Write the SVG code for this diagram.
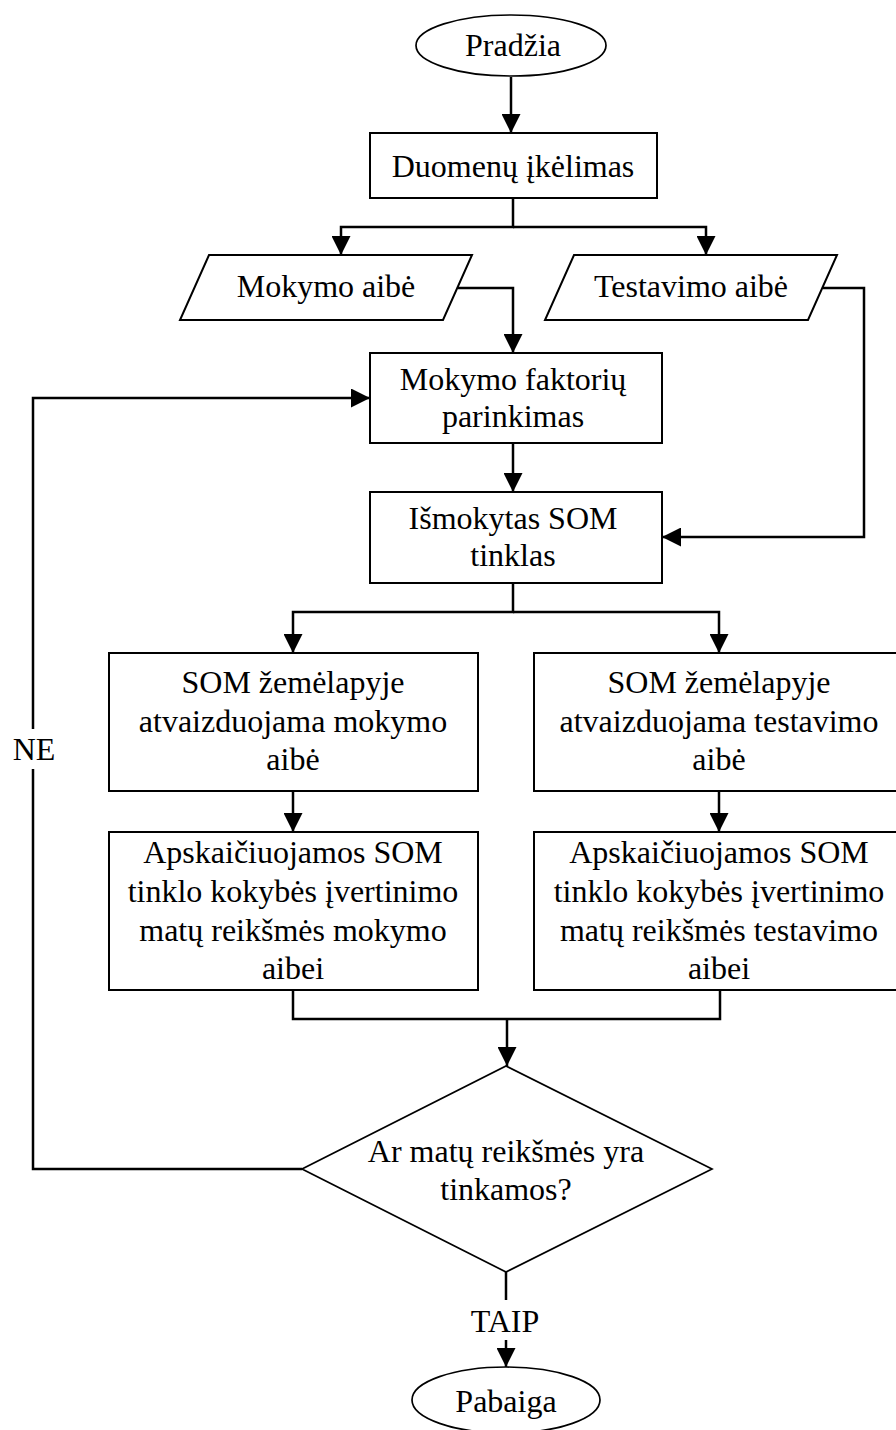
<svg xmlns="http://www.w3.org/2000/svg" width="896" height="1430" viewBox="0 0 896 1430">
<style>
.shape{fill:#fff;stroke:#000;stroke-width:2}
.thin{fill:#fff;stroke:#000;stroke-width:1.7}
.conn{fill:none;stroke:#000;stroke-width:2.5}
text{font-family:"Liberation Serif","Times New Roman",serif;font-size:32px;fill:#000;text-anchor:middle}
</style>
<defs>
<marker id="arr" markerUnits="userSpaceOnUse" markerWidth="19" markerHeight="19" refX="19" refY="9.5" orient="auto">
<path d="M0,0 L19,9.5 L0,19 z" fill="#000"/>
</marker>
</defs>
<rect width="896" height="1430" fill="#fff"/>
<g id="connectors">
<path class="conn" d="M511,77 V133" marker-end="url(#arr)"/>
<path class="conn" d="M513,198 V227 H341 V255" marker-end="url(#arr)"/>
<path class="conn" d="M513,227 H706 V255" marker-end="url(#arr)"/>
<path class="conn" d="M458,288 H513 V353" marker-end="url(#arr)"/>
<path class="conn" d="M823,288 H864 V537 H662" marker-end="url(#arr)"/>
<path class="conn" d="M513,443 V492" marker-end="url(#arr)"/>
<path class="conn" d="M513,583 V612 H293 V653" marker-end="url(#arr)"/>
<path class="conn" d="M513,612 H719 V653" marker-end="url(#arr)"/>
<path class="conn" d="M293,791 V832" marker-end="url(#arr)"/>
<path class="conn" d="M719,791 V832" marker-end="url(#arr)"/>
<path class="conn" d="M293,990 V1019 H720 V990"/>
<path class="conn" d="M507,1019 V1066" marker-end="url(#arr)"/>
<path class="conn" d="M302,1169 H33 V769"/>
<path class="conn" d="M33,729 V398 H370" marker-end="url(#arr)"/>
<path class="conn" d="M506,1272 V1300"/>
<path class="conn" d="M506,1340 V1367" marker-end="url(#arr)"/>
<text x="34" y="760">NE</text>
<text x="505" y="1332">TAIP</text>
</g>
<g id="start">
<ellipse class="thin" cx="511" cy="45.5" rx="95" ry="30.5"/>
<text x="513" y="56">Pradžia</text>
</g>
<g id="load">
<rect class="shape" x="370" y="133" width="287" height="65"/>
<text x="513" y="177">Duomenų įkėlimas</text>
</g>
<g id="train-set">
<polygon class="shape" points="209,255 472,255 443,320 180,320"/>
<text x="326" y="297">Mokymo aibė</text>
</g>
<g id="test-set">
<polygon class="shape" points="574,255 837,255 808,320 545,320"/>
<text x="691" y="297">Testavimo aibė</text>
</g>
<g id="factors">
<rect class="shape" x="370" y="353" width="292" height="90"/>
<text x="513" y="390">Mokymo faktorių</text>
<text x="513" y="427">parinkimas</text>
</g>
<g id="trained">
<rect class="shape" x="370" y="492" width="292" height="91"/>
<text x="513" y="529">Išmokytas SOM</text>
<text x="513" y="566">tinklas</text>
</g>
<g id="map-train">
<rect class="shape" x="109" y="653" width="369" height="138"/>
<text x="293" y="693">SOM žemėlapyje</text>
<text x="293" y="732">atvaizduojama mokymo</text>
<text x="293" y="770">aibė</text>
</g>
<g id="map-test">
<rect class="shape" x="534" y="653" width="372" height="138"/>
<text x="719" y="693">SOM žemėlapyje</text>
<text x="719" y="732">atvaizduojama testavimo</text>
<text x="719" y="770">aibė</text>
</g>
<g id="calc-train">
<rect class="shape" x="109" y="832" width="369" height="158"/>
<text x="293" y="863">Apskaičiuojamos SOM</text>
<text x="293" y="902">tinklo kokybės įvertinimo</text>
<text x="293" y="941">matų reikšmės mokymo</text>
<text x="293" y="979">aibei</text>
</g>
<g id="calc-test">
<rect class="shape" x="534" y="832" width="372" height="158"/>
<text x="719" y="863">Apskaičiuojamos SOM</text>
<text x="719" y="902">tinklo kokybės įvertinimo</text>
<text x="719" y="941">matų reikšmės testavimo</text>
<text x="719" y="979">aibei</text>
</g>
<g id="decision">
<polygon class="thin" points="506,1066 712,1169 506,1272 302,1169"/>
<text x="506" y="1162">Ar matų reikšmės yra</text>
<text x="506" y="1200">tinkamos?</text>
</g>
<g id="end">
<ellipse class="thin" cx="506" cy="1400" rx="94" ry="33"/>
<text x="506" y="1412">Pabaiga</text>
</g>
</svg>
